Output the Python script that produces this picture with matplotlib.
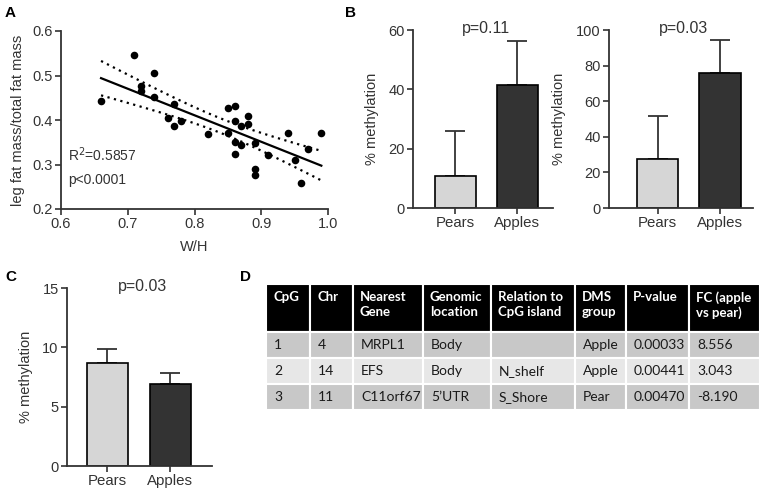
import numpy as np
import matplotlib
matplotlib.use("Agg")
import matplotlib.pyplot as plt
from matplotlib.patches import Rectangle

plt.rcParams['font.family'] = ['Liberation Sans', 'DejaVu Sans']

# ---------------- data ----------------
wh = [0.66, 0.71, 0.72, 0.72, 0.74, 0.74, 0.77, 0.76, 0.77, 0.78, 0.82, 0.85, 0.86, 0.86, 0.85,
      0.86, 0.86, 0.87, 0.87, 0.88, 0.88, 0.89, 0.89, 0.89, 0.91, 0.94, 0.95, 0.97, 0.96, 0.99]
leg_ratio = [0.443, 0.546, 0.476, 0.466, 0.506, 0.452, 0.435, 0.404, 0.387, 0.398, 0.369, 0.428,
             0.432, 0.397, 0.370, 0.351, 0.324, 0.387, 0.344, 0.409, 0.390, 0.348, 0.289, 0.276,
             0.322, 0.370, 0.310, 0.335, 0.258, 0.370]

groups = ["Pears", "Apples"]
b1_mean = [10.7, 41.3]
b1_err = [15.4, 15.0]
b2_mean = [27.7, 75.7]
b2_err = [24.1, 18.7]
c_mean = [8.72, 6.95]
c_err = [1.18, 0.90]

table_header = ["CpG", "Chr", "Nearest\nGene", "Genomic\nlocation", "Relation to\nCpG island",
                "DMS\ngroup", "P-value", "FC (apple\nvs pear)"]
table_rows = [
    ["1", "4", "MRPL1", "Body", "", "Apple", "0.00033", "8.556"],
    ["2", "14", "EFS", "Body", "N_shelf", "Apple", "0.00441", "3.043"],
    ["3", "11", "C11orf67", "5\u2019UTR", "S_Shore", "Pear", "0.00470", "-8.190"],
]

# ---------------- layout helpers ----------------
W, H = 766, 499
fig = plt.figure(figsize=(W / 100, H / 100), dpi=100)
TXT = "#333333"


def ax_px(l, t, r, b):
    return fig.add_axes([l / W, 1 - b / H, (r - l) / W, (b - t) / H])


def style(ax):
    for s in ["top", "right"]:
        ax.spines[s].set_visible(False)
    for s in ["left", "bottom"]:
        ax.spines[s].set_color(TXT)
        ax.spines[s].set_linewidth(1.3)
    ax.tick_params(direction="out", length=4, width=1.2, color=TXT, labelcolor=TXT,
                   labelsize=10.5, pad=2)


# ---------------- Panel A ----------------
axA = ax_px(61, 31, 328, 209)
style(axA)
x = np.array(wh)
y = np.array(leg_ratio)
axA.scatter(x, y, s=30, color="black", zorder=3, linewidths=0)
slope, inter = np.polyfit(x, y, 1)
xs = np.linspace(x.min(), x.max(), 100)
yfit = slope * xs + inter
n = len(x)
resid = y - (slope * x + inter)
s_err = np.sqrt(np.sum(resid ** 2) / (n - 2))
Sxx = np.sum((x - x.mean()) ** 2)
tval = 2.048
ci = tval * s_err * np.sqrt(1 / n + (xs - x.mean()) ** 2 / Sxx)
axA.plot(xs, yfit, color="black", lw=1.6)
axA.plot(xs, yfit + ci, color="black", lw=1.6, ls=(0, (1, 2)))
axA.plot(xs, yfit - ci, color="black", lw=1.6, ls=(0, (1, 2)))
axA.set_xlim(0.6, 1.0)
axA.set_ylim(0.2, 0.6)
axA.set_xticks([0.6, 0.7, 0.8, 0.9, 1.0])
axA.set_yticks([0.2, 0.3, 0.4, 0.5, 0.6])
axA.set_xticklabels(["0.6", "0.7", "0.8", "0.9", "1.0"])
axA.set_xlabel("W/H", fontsize=10.5, color=TXT, labelpad=6)
axA.set_ylabel("leg fat mass/total fat mass", fontsize=10.5, color=TXT, labelpad=5)
axA.text(0.025, 0.27, "R$^2$=0.5857", transform=axA.transAxes, fontsize=10, color=TXT)
axA.text(0.025, 0.14, "p<0.0001", transform=axA.transAxes, fontsize=10, color=TXT)


# ---------------- bar panels ----------------
def bar_panel(ax, means, errs, ylim, yticks, xlim, ptxt, width=0.66):
    style(ax)
    pos = np.arange(len(groups))
    ax.bar(pos, means, width=width, color=["#d6d6d6", "#333333"], edgecolor="black",
           linewidth=1.2, zorder=2)
    ax.errorbar(pos, means, yerr=[np.zeros(len(errs)), errs], fmt="none", ecolor=TXT,
                elinewidth=1.3, capsize=7, capthick=1.3, zorder=1)
    ax.set_xlim(*xlim)
    ax.set_ylim(*ylim)
    ax.set_yticks(yticks)
    ax.set_xticks(pos)
    ax.set_xticklabels(groups, fontsize=10.8)
    ax.set_ylabel("% methylation", fontsize=10.5, color=TXT, labelpad=7)
    ax.text(0.52, 1.01, ptxt, transform=ax.transAxes, ha="center", va="center",
            fontsize=11.5, color=TXT)


axB1 = ax_px(413, 30, 553, 208)
bar_panel(axB1, b1_mean, b1_err, (0, 60), [0, 20, 40, 60], (-0.68, 1.58), "p=0.11")
axB2 = ax_px(609, 30, 753, 208)
bar_panel(axB2, b2_mean, b2_err, (0, 100), [0, 20, 40, 60, 80, 100], (-0.78, 1.53), "p=0.03")
axC = ax_px(67, 288, 212, 466)
bar_panel(axC, c_mean, c_err, (0, 15), [0, 5, 10, 15], (-0.64, 1.66), "p=0.03", width=0.65)

# ---------------- Table D ----------------
col_w = [44, 43, 70, 68, 84, 51, 63, 71]
head_h = 48
row_h = 26
tot_w = sum(col_w)
tot_h = head_h + row_h * len(table_rows)
axT = ax_px(266, 284, 266 + tot_w, 284 + tot_h)
axT.set_xlim(0, tot_w)
axT.set_ylim(tot_h, 0)
axT.axis("off")
row_colors = ["#c8c8c8", "#e7e7e7", "#c8c8c8"]
tfont = ["Lato", "DejaVu Sans"]
x0 = 0
for j, w in enumerate(col_w):
    axT.add_patch(Rectangle((x0, 0), w, head_h, facecolor="black", edgecolor="white", lw=1.5))
    axT.text(x0 + 7, 7, table_header[j], ha="left", va="top", color="white", fontsize=9.5,
             fontweight="bold", family=tfont, linespacing=1.25)
    for i, row in enumerate(table_rows):
        yy = head_h + i * row_h
        axT.add_patch(Rectangle((x0, yy), w, row_h, facecolor=row_colors[i], edgecolor="white",
                                lw=1.5))
        axT.text(x0 + 8, yy + row_h / 2, row[j], ha="left", va="center", color="#1a1a1a",
                 fontsize=10, family=tfont)
    x0 += w

# ---------------- panel labels ----------------
for lbl, px, py in [("A", 5, 13), ("B", 345, 13), ("C", 5, 277), ("D", 240, 277)]:
    fig.text(px / W, 1 - py / H, lbl, fontsize=11, fontweight="bold", va="center", ha="left")

fig.savefig("out.png", dpi=100)
